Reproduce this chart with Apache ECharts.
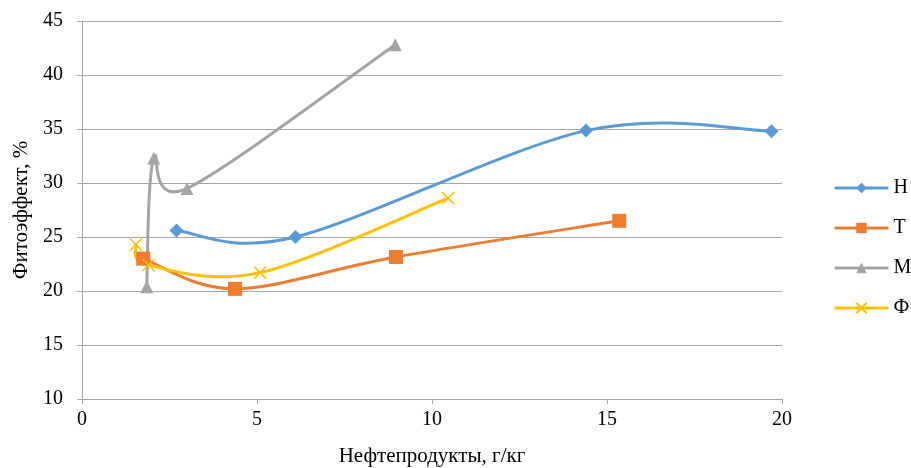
<!DOCTYPE html>
<html><head><meta charset="utf-8">
<script src="https://cdn.jsdelivr.net/npm/echarts@6/dist/echarts.min.js"></script>
<style>html,body{margin:0;padding:0;background:#fff}#c{width:911px;height:468px}</style>
</head><body><div id="c"></div>
<script>
const seriesNames = ['Н', 'Т', 'М', 'Ф'];
const dataH = [[2.7, 25.6], [6.1, 25.0], [14.4, 34.85], [19.7, 34.8]];
const dataT = [[1.75, 23.0], [4.37, 20.2], [8.97, 23.15], [15.35, 26.5]];
const dataM = [[1.85, 20.4], [2.05, 32.3], [3.0, 29.5], [8.95, 42.8]];
const dataF = [[1.54, 24.3], [1.9, 22.4], [5.09, 21.7], [10.46, 28.6]];
const xTicks = [0, 5, 10, 15, 20];
const yTicks = [10, 15, 20, 25, 30, 35, 40, 45];

const font = 'Liberation Serif';
const colors = ['#5B9BD5', '#ED7D31', '#A5A5A5', '#FFC000'];
const symbols = ['diamond', 'rect', 'triangle', 'path://M0,0L10,10M10,0L0,10'];
const sizes = [14, 14, 13, 12];
const allData = [dataH, dataT, dataM, dataF];

// Smooth curve (Catmull-Rom style, as in spreadsheet charts) through the data points,
// computed in pixel space via the axis scales.
function smoothPath(pts) {
  const n = pts.length;
  let d = 'M' + pts[0][0] + ',' + pts[0][1];
  for (let i = 0; i < n - 1; i++) {
    const p0 = pts[Math.max(i - 1, 0)], p1 = pts[i], p2 = pts[i + 1], p3 = pts[Math.min(i + 2, n - 1)];
    const c1x = p1[0] + (p2[0] - p0[0]) / 6, c1y = p1[1] + (p2[1] - p0[1]) / 6;
    const c2x = p2[0] - (p3[0] - p1[0]) / 6, c2y = p2[1] - (p3[1] - p1[1]) / 6;
    d += 'C' + c1x + ',' + c1y + ' ' + c2x + ',' + c2y + ' ' + p2[0] + ',' + p2[1];
  }
  return d;
}

const markerSeries = seriesNames.map((n, i) => ({
  name: n, type: 'line', data: allData[i],
  symbol: symbols[i], symbolSize: sizes[i], showSymbol: true,
  lineStyle: {color: colors[i], width: 3, opacity: 0},
  itemStyle: i === 3 ? {color: 'rgba(0,0,0,0)', borderColor: colors[i], borderWidth: 1.5} : {color: colors[i], borderWidth: 0},
  z: 10 + i
}));
const curveSeries = seriesNames.map((n, i) => ({
  name: n, type: 'custom', data: allData[i],
  renderItem: function (params, api) {
    if (params.dataIndex !== 0) return null;
    const pts = allData[i].map(p => api.coord(p));
    return {
      type: 'path',
      shape: {pathData: smoothPath(pts)},
      style: {fill: 'none', stroke: colors[i], lineWidth: 3, lineJoin: 'round', lineCap: 'round'}
    };
  },
  z: 2 + i
}));

const chart = echarts.init(document.getElementById('c'), null, {renderer: 'canvas'});
chart.setOption({
  animation: false,
  backgroundColor: '#fff',
  grid: {left: 82, right: 129, top: 21, bottom: 69, containLabel: false, outerBoundsMode: 'none'},
  legend: {
    orient: 'vertical', left: 828, top: 173,
    itemWidth: 54, itemHeight: 13, itemGap: 20,
    textStyle: {fontFamily: font, fontSize: 20, color: '#000'},
    data: seriesNames.map((n, i) => ({name: n, lineStyle: {color: colors[i], width: 3, opacity: 1}}))
  },
  xAxis: {
    type: 'value', min: xTicks[0], max: xTicks[xTicks.length - 1], interval: 5,
    name: 'Нефтепродукты, г/кг', nameLocation: 'middle', nameGap: 47,
    nameTextStyle: {fontFamily: font, fontSize: 21, color: '#000'},
    axisLine: {show: true, lineStyle: {color: '#A6A6A6', width: 1}},
    axisTick: {show: true, length: 5, lineStyle: {color: '#A6A6A6'}},
    axisLabel: {fontFamily: font, fontSize: 20, color: '#000', margin: 11},
    splitLine: {show: false}
  },
  yAxis: {
    type: 'value', min: yTicks[0], max: yTicks[yTicks.length - 1], interval: 5,
    name: 'Фитоэффект, %', nameLocation: 'middle', nameGap: 50, nameRotate: 90,
    nameTextStyle: {fontFamily: font, fontSize: 21, color: '#000'},
    axisLine: {show: true, lineStyle: {color: '#A6A6A6', width: 1}},
    axisTick: {show: true, length: 5, lineStyle: {color: '#A6A6A6'}},
    axisLabel: {fontFamily: font, fontSize: 20, color: '#000', margin: 19},
    splitLine: {show: true, lineStyle: {color: '#A6A6A6', width: 1}}
  },
  series: markerSeries.concat(curveSeries)
});
</script></body></html>
